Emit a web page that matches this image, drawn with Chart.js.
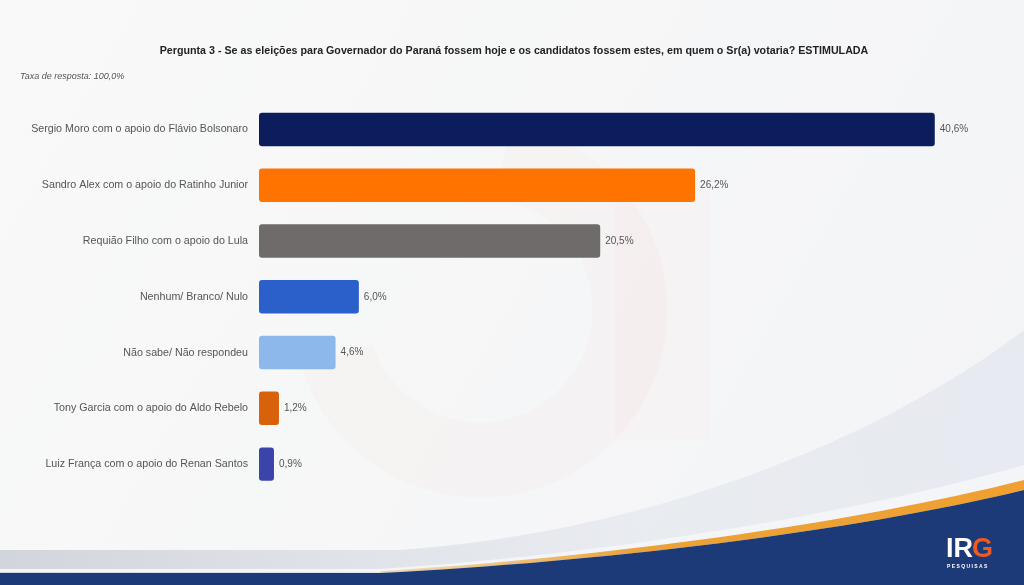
<!DOCTYPE html>
<html>
<head>
<meta charset="utf-8">
<script src="https://cdn.jsdelivr.net/npm/chart.js@4"></script>
<style>
  html, body { margin: 0; padding: 0; background: #f8f8f8; }
  #wrap { width: 1024px; height: 585px; position: relative; }
</style>
</head>
<body>
<div id="wrap"><canvas id="chart" width="1024" height="585"></canvas></div>
<script>
const categories = [
  "Sergio Moro com o apoio do Flávio Bolsonaro",
  "Sandro Alex com o apoio do Ratinho Junior",
  "Requião Filho com o apoio do Lula",
  "Nenhum/ Branco/ Nulo",
  "Não sabe/ Não respondeu",
  "Tony Garcia com o apoio do Aldo Rebelo",
  "Luiz França com o apoio do Renan Santos"
];
const values = [40.6, 26.2, 20.5, 6.0, 4.6, 1.2, 0.9];
const barColors = ["#0c1d5e", "#ff7300", "#6e6b6a", "#2b5fc9", "#8db8ec", "#d8620c", "#3b45a9"];

const titleText = "Pergunta 3 - Se as eleições para Governador do Paraná fossem hoje e os candidatos fossem estes, em quem o Sr(a) votaria? ESTIMULADA";
const subtitleText = "Taxa de resposta: 100,0%";

const fmt = v => v.toFixed(1).replace(".", ",") + "%";

// background: watermark + bottom swoosh + logo
const backdrop = {
  id: "backdrop",
  beforeDraw(chart) {
    const c = chart.ctx;
    const W = chart.width, H = chart.height;
    c.save();
    let g = c.createLinearGradient(0, 0, W, H);
    g.addColorStop(0, "#f9f9f9");
    g.addColorStop(1, "#f3f4f6");
    c.fillStyle = g;
    c.fillRect(0, 0, W, H);

    // faint G watermark
    c.strokeStyle = "rgba(235,120,100,0.03)";
    c.lineWidth = 75;
    c.beginPath();
    c.arc(480, 310, 150, Math.PI * 1.55, Math.PI * 0.9 + Math.PI * 2, false);
    c.stroke();
    c.fillStyle = "rgba(235,120,100,0.025)";
    c.fillRect(615, 180, 95, 260);

    // soft gray swoosh rising to the right
    g = c.createLinearGradient(0, 560, 1024, 300);
    g.addColorStop(0, "rgba(205,209,217,0.9)");
    g.addColorStop(0.6, "rgba(225,229,236,0.6)");
    g.addColorStop(1, "rgba(218,223,232,0.5)");
    c.fillStyle = g;
    c.beginPath();
    c.moveTo(0, 550);
    c.lineTo(400, 550);
    c.bezierCurveTo(650, 532, 880, 440, 1024, 330);
    c.lineTo(1024, 585);
    c.lineTo(0, 585);
    c.closePath();
    c.fill();

    // white highlight band
    c.fillStyle = "#f4f5f8";
    c.beginPath();
    c.moveTo(0, 569);
    c.lineTo(380, 569);
    c.bezierCurveTo(600, 555, 850, 515, 1024, 465);
    c.lineTo(1024, 488);
    c.bezierCurveTo(850, 530, 600, 560, 380, 572);
    c.lineTo(0, 572);
    c.closePath();
    c.fill();

    // orange stripe
    g = c.createLinearGradient(380, 0, 1024, 0);
    g.addColorStop(0, "rgba(240,170,60,0.3)");
    g.addColorStop(0.4, "#eaa23a");
    g.addColorStop(1, "#f0a030");
    c.fillStyle = g;
    c.beginPath();
    c.moveTo(380, 571);
    c.bezierCurveTo(600, 558, 850, 524, 1024, 480);
    c.lineTo(1024, 490);
    c.bezierCurveTo(850, 532, 600, 562, 380, 573);
    c.closePath();
    c.fill();

    // navy base
    c.fillStyle = "#1d3a78";
    c.beginPath();
    c.moveTo(0, 573);
    c.lineTo(380, 573);
    c.bezierCurveTo(600, 562, 850, 532, 1024, 490);
    c.lineTo(1024, 585);
    c.lineTo(0, 585);
    c.closePath();
    c.fill();

    // logo
    c.font = "bold 27px 'Liberation Sans', Arial, sans-serif";
    c.textBaseline = "alphabetic";
    c.textAlign = "left";
    c.fillStyle = "#ffffff";
    c.fillText("IR", 946, 557);
    const w = c.measureText("IR").width;
    c.fillStyle = "#ee5a24";
    c.fillText("G", 946 + w - 1, 557);
    c.font = "bold 5px 'Liberation Sans', Arial, sans-serif";
    c.fillStyle = "#ffffff";
    c.fillText("P E S Q U I S A S", 947, 568);
    c.restore();
  }
};

const valueLabels = {
  id: "valueLabels",
  afterDatasetsDraw(chart) {
    const c = chart.ctx;
    const meta = chart.getDatasetMeta(0);
    c.save();
    c.font = "10px 'Liberation Sans', Arial, sans-serif";
    c.fillStyle = "#555555";
    c.textAlign = "left";
    c.textBaseline = "middle";
    meta.data.forEach((bar, i) => {
      c.fillText(fmt(values[i]), bar.x + 5, bar.y);
    });
    c.restore();
  }
};

new Chart(document.getElementById("chart"), {
  type: "bar",
  data: {
    labels: categories,
    datasets: [{
      data: values,
      backgroundColor: barColors,
      borderRadius: 3,
      borderSkipped: false,
      barPercentage: 0.6,
      categoryPercentage: 1
    }]
  },
  options: {
    indexAxis: "y",
    responsive: false,
    animation: false,
    layout: { padding: { top: 45, bottom: 93, left: 20, right: 16 } },
    plugins: {
      legend: { display: false },
      tooltip: { enabled: false },
      title: {
        display: true,
        text: titleText,
        color: "#222222",
        font: { family: "'Liberation Sans', Arial, sans-serif", size: 10.7, weight: "bold" },
        padding: { top: 0, bottom: 13 }
      },
      subtitle: {
        display: true,
        text: subtitleText,
        align: "start",
        color: "#555555",
        font: { family: "'Liberation Sans', Arial, sans-serif", size: 9, style: "italic" },
        padding: { top: 0, bottom: 20 }
      }
    },
    scales: {
      x: {
        display: false,
        min: 0,
        max: 45
      },
      y: {
        grid: { display: false, drawTicks: false },
        border: { display: false },
        ticks: {
          color: "#555555",
          padding: 11,
          font: { family: "'Liberation Sans', Arial, sans-serif", size: 10.7 }
        },
        afterFit(scale) { scale.width = 239; }
      }
    }
  },
  plugins: [backdrop, valueLabels]
});
</script>
</body>
</html>
